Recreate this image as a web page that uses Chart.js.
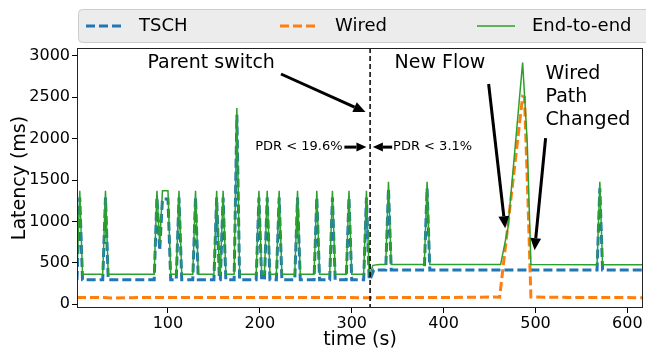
<!DOCTYPE html>
<html>
<head>
<meta charset="utf-8">
<script src="https://cdn.jsdelivr.net/npm/chart.js@4.4.0/dist/chart.umd.min.js"></script>
<style>
html, body { margin: 0; padding: 0; background: #fff; }
</style>
</head>
<body>
<canvas id="latencyChart" width="646" height="352"></canvas>
<script>
// time (s) / latency (ms)
const tschTime = [1, 4, 7, 29, 32, 35, 85, 88, 91, 94, 100, 103, 109, 112, 115, 127, 130, 133,
  150, 153, 156, 157, 160, 163, 172, 175, 178, 196, 199, 202, 205, 208, 211, 218, 221, 224,
  238, 241, 244, 259, 262, 265, 276, 279, 282, 294, 297, 300, 313, 316, 319, 320, 324,
  337, 340, 343, 379, 382, 385, 567, 570, 573, 617];
const tschLatency = [295, 1290, 295, 295, 1290, 295, 295, 1290, 650, 1270, 1270, 295, 295, 1290, 295, 295, 1290, 295,
  295, 1290, 295, 295, 1290, 295, 295, 2290, 295, 295, 1290, 295, 295, 1290, 295, 295, 1290, 295,
  295, 1290, 295, 295, 1290, 295, 295, 1290, 295, 295, 1290, 295, 295, 1290, 295, 300, 415,
  415, 1400, 415, 415, 1400, 415, 415, 1400, 415, 415];

const wiredTime = [1, 30, 38, 60, 100, 200, 320, 400, 455, 461, 486, 488, 492, 495, 540, 617];
const wiredLatency = [82, 82, 76, 80, 82, 82, 80, 82, 88, 85, 2510, 2500, 1180, 88, 82, 80];

const e2eTime = [1, 4, 7, 29, 32, 35, 85, 88, 91, 94, 100, 103, 109, 112, 115, 127, 130, 133,
  150, 153, 156, 157, 160, 163, 172, 175, 178, 196, 199, 202, 205, 208, 211, 218, 221, 224,
  238, 241, 244, 259, 262, 265, 276, 279, 282, 294, 297, 300, 313, 316, 319, 320, 323, 330,
  337, 340, 343, 379, 382, 385, 462, 470, 486, 491, 495, 567, 570, 573, 617];
const e2eLatency = [362, 1370, 362, 362, 1370, 362, 362, 1370, 720, 1370, 1370, 362, 362, 1370, 362, 362, 1370, 362,
  362, 1370, 362, 362, 1370, 362, 362, 2370, 362, 362, 1370, 362, 362, 1370, 362, 362, 1370, 362,
  362, 1370, 362, 362, 1370, 362, 362, 1370, 362, 362, 1370, 362, 362, 1370, 362, 362, 470, 480,
  480, 1480, 480, 480, 1480, 480, 480, 920, 2920, 1960, 480, 478, 1480, 478, 478];

const xTicks = [100, 200, 300, 400, 500, 600];
const yTicks = [0, 500, 1000, 1500, 2000, 2500, 3000];
const seriesLabels = ['TSCH', 'Wired', 'End-to-end'];

const FONT = "'DejaVu Sans', sans-serif";
const colors = ['#1f77b4', '#ff7f0e', '#2ca02c'];

function toPoints(ts, vs) {
  return ts.map((t, i) => ({ x: t, y: vs[i] }));
}

// annotation anchors in data units (time, latency)
const switchTime = 320;
const notes = [
  { text: 'Parent switch', x: 147, y: 2914, size: 19, align: 'center' },
  { text: 'New Flow', x: 396, y: 2914, size: 19, align: 'center' },
  { text: 'Wired', x: 511, y: 2781, size: 19, align: 'left' },
  { text: 'Path', x: 511, y: 2503, size: 19, align: 'left' },
  { text: 'Changed', x: 511, y: 2225, size: 19, align: 'left' },
  { text: 'PDR < 19.6%', x: 290, y: 1898, size: 13, align: 'right' },
  { text: 'PDR < 3.1%', x: 345, y: 1898, size: 13, align: 'left' }
];
const arrows = [
  { from: [223, 2781], to: [315, 2322], w: 3, head: 12 },
  { from: [292, 1898], to: [316, 1898], w: 3, head: 10 },
  { from: [344, 1898], to: [323, 1898], w: 3, head: 10 },
  { from: [449, 2660], to: [467, 919], w: 3, head: 12 },
  { from: [511, 2007], to: [499, 653], w: 3, head: 12 }
];

function drawArrow(ctx, x1, y1, x2, y2, w, head) {
  const ang = Math.atan2(y2 - y1, x2 - x1);
  const bx = x2 - Math.cos(ang) * head;
  const by = y2 - Math.sin(ang) * head;
  ctx.save();
  ctx.strokeStyle = '#000';
  ctx.fillStyle = '#000';
  ctx.lineWidth = w;
  ctx.beginPath();
  ctx.moveTo(x1, y1);
  ctx.lineTo(bx, by);
  ctx.stroke();
  const hw = head * 0.45;
  ctx.beginPath();
  ctx.moveTo(x2, y2);
  ctx.lineTo(bx + Math.sin(ang) * hw, by - Math.cos(ang) * hw);
  ctx.lineTo(bx - Math.sin(ang) * hw, by + Math.cos(ang) * hw);
  ctx.closePath();
  ctx.fill();
  ctx.restore();
}

const decorPlugin = {
  id: 'decor',
  afterDatasetsDraw(chart) {
    const ctx = chart.ctx;
    const xs = chart.scales.x, ys = chart.scales.y;
    const a = chart.chartArea;

    // switch line
    ctx.save();
    ctx.strokeStyle = '#000';
    ctx.lineWidth = 1.5;
    ctx.setLineDash([5, 3]);
    const vx = xs.getPixelForValue(switchTime);
    ctx.beginPath();
    ctx.moveTo(vx, a.top);
    ctx.lineTo(vx, a.bottom);
    ctx.stroke();
    ctx.restore();

    // frame
    ctx.save();
    ctx.strokeStyle = '#222';
    ctx.lineWidth = 1;
    ctx.strokeRect(a.left + 0.5, a.top + 0.5, a.right - a.left - 1, a.bottom - a.top - 1);
    ctx.restore();

    ctx.save();
    ctx.fillStyle = '#000';
    ctx.textBaseline = 'middle';
    notes.forEach(n => {
      ctx.font = n.size + 'px ' + FONT;
      ctx.textAlign = n.align;
      ctx.fillText(n.text, xs.getPixelForValue(n.x), ys.getPixelForValue(n.y));
    });
    ctx.restore();

    arrows.forEach(ar => {
      drawArrow(ctx, xs.getPixelForValue(ar.from[0]), ys.getPixelForValue(ar.from[1]),
        xs.getPixelForValue(ar.to[0]), ys.getPixelForValue(ar.to[1]), ar.w, ar.head);
    });
  },
  afterDraw(chart) {
    // legend box in the matplotlib style
    const ctx = chart.ctx;
    ctx.save();
    const bx = 78.5, by = 9.5, bw = 590, bh = 33, r = 4;
    ctx.beginPath();
    ctx.moveTo(bx + r, by);
    ctx.lineTo(bx + bw - r, by);
    ctx.arcTo(bx + bw, by, bx + bw, by + r, r);
    ctx.lineTo(bx + bw, by + bh - r);
    ctx.arcTo(bx + bw, by + bh, bx + bw - r, by + bh, r);
    ctx.lineTo(bx + r, by + bh);
    ctx.arcTo(bx, by + bh, bx, by + bh - r, r);
    ctx.lineTo(bx, by + r);
    ctx.arcTo(bx, by, bx + r, by, r);
    ctx.closePath();
    ctx.fillStyle = '#ececec';
    ctx.fill();
    ctx.strokeStyle = '#cccccc';
    ctx.lineWidth = 1;
    ctx.stroke();

    const items = [
      { x: 86, tx: 139 },
      { x: 280, tx: 335 },
      { x: 477, tx: 532 }
    ];
    ctx.font = '18px ' + FONT;
    ctx.textBaseline = 'middle';
    ctx.textAlign = 'left';
    chart.data.datasets.forEach((ds, i) => {
      const it = items[i];
      ctx.strokeStyle = ds.borderColor;
      ctx.lineWidth = ds.borderWidth;
      ctx.setLineDash(ds.borderDash || []);
      ctx.beginPath();
      ctx.moveTo(it.x, 26);
      ctx.lineTo(it.x + 38, 26);
      ctx.stroke();
      ctx.setLineDash([]);
      ctx.fillStyle = '#000';
      ctx.fillText(ds.label, it.tx, 26);
    });
    ctx.restore();
  }
};

new Chart(document.getElementById('latencyChart').getContext('2d'), {
  type: 'line',
  data: {
    datasets: [{
      label: seriesLabels[0],
      data: toPoints(tschTime, tschLatency),
      borderColor: colors[0],
      borderWidth: 3,
      borderDash: [9, 4],
      order: 2
    }, {
      label: seriesLabels[1],
      data: toPoints(wiredTime, wiredLatency),
      borderColor: colors[1],
      borderWidth: 3,
      borderDash: [9, 4],
      order: 1
    }, {
      label: seriesLabels[2],
      data: toPoints(e2eTime, e2eLatency),
      borderColor: colors[2],
      borderWidth: 1.5,
      order: 0
    }]
  },
  options: {
    responsive: false,
    animation: false,
    devicePixelRatio: 1,
    layout: { padding: { top: 48, right: 3, left: 0, bottom: 0 } },
    elements: { point: { radius: 0 }, line: { tension: 0, fill: false } },
    plugins: { legend: { display: false }, tooltip: { enabled: false } },
    scales: {
      x: {
        type: 'linear',
        min: 1,
        max: 617,
        afterBuildTicks: axis => { axis.ticks = xTicks.map(v => ({ value: v })); },
        afterFit: s => { s.height = 44; },
        ticks: { color: '#000', font: { family: FONT, size: 16 }, padding: 1, maxRotation: 0, autoSkip: false,
          callback: v => String(v) },
        grid: { drawOnChartArea: false, color: '#000', tickLength: 5 },
        border: { display: false },
        title: { display: true, text: 'time (s)', color: '#000', font: { family: FONT, size: 19 }, padding: { top: 0, bottom: 1 } }
      },
      y: {
        min: -45,
        max: 3095,
        afterBuildTicks: axis => { axis.ticks = yTicks.map(v => ({ value: v })); },
        afterFit: s => { s.width = 77; },
        ticks: { color: '#000', font: { family: FONT, size: 16 }, padding: 2, callback: v => String(v) },
        grid: { drawOnChartArea: false, color: '#000', tickLength: 5 },
        border: { display: false },
        title: { display: true, text: 'Latency (ms)', color: '#000', font: { family: FONT, size: 19 }, padding: { top: 9, bottom: 0 } }
      }
    }
  },
  plugins: [decorPlugin]
});
</script>
</body>
</html>
